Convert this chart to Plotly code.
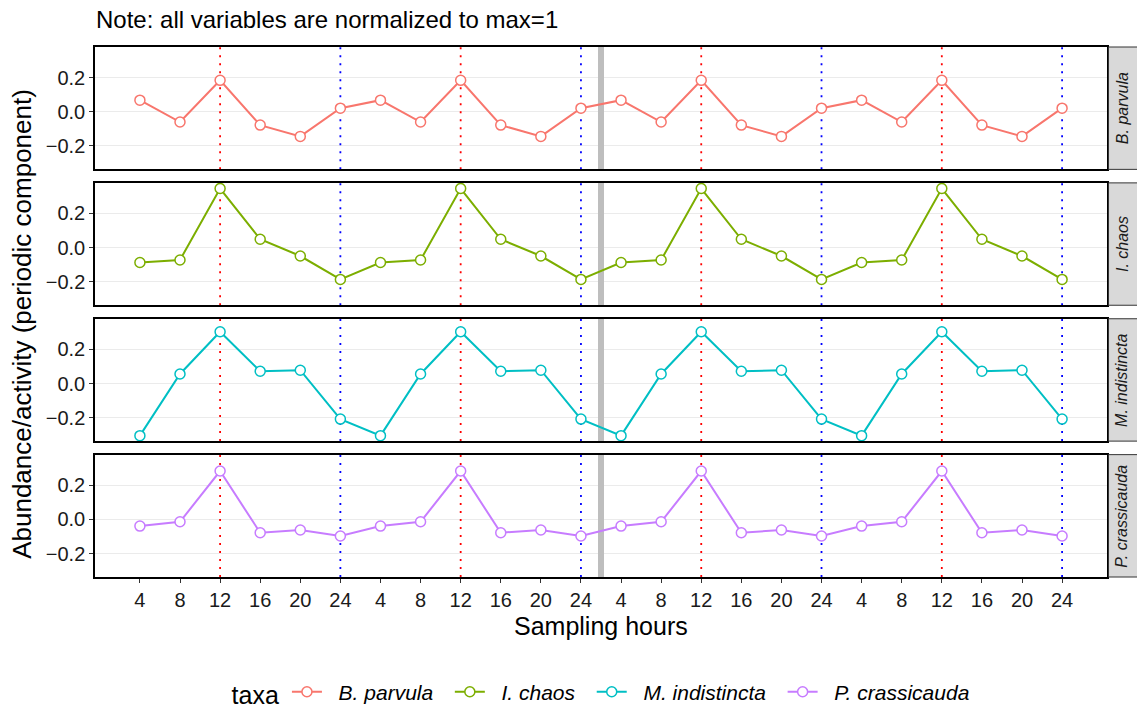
import plotly.graph_objects as go
from plotly.subplots import make_subplots

# ---- data ----
hour_labels = [4, 8, 12, 16, 20, 24, 4, 8, 12, 16, 20, 24,
               4, 8, 12, 16, 20, 24, 4, 8, 12, 16, 20, 24]
sample_index = list(range(1, 25))

taxa = ["B. parvula", "I. chaos", "M. indistincta", "P. crassicauda"]

b_parvula = [0.068, -0.060, 0.184, -0.078, -0.144, 0.021,
             0.068, -0.060, 0.184, -0.078, -0.144, 0.021,
             0.068, -0.060, 0.184, -0.078, -0.144, 0.021,
             0.068, -0.060, 0.184, -0.078, -0.144, 0.021]
i_chaos = [-0.087, -0.072, 0.346, 0.049, -0.049, -0.186,
           -0.087, -0.072, 0.346, 0.049, -0.049, -0.186,
           -0.087, -0.072, 0.346, 0.049, -0.049, -0.186,
           -0.087, -0.072, 0.346, 0.049, -0.049, -0.186]
m_indistincta = [-0.305, 0.056, 0.303, 0.072, 0.078, -0.208,
                 -0.305, 0.056, 0.303, 0.072, 0.078, -0.208,
                 -0.305, 0.056, 0.303, 0.072, 0.078, -0.208,
                 -0.305, 0.056, 0.303, 0.072, 0.078, -0.208]
p_crassicauda = [-0.039, -0.014, 0.283, -0.078, -0.062, -0.097,
                 -0.039, -0.014, 0.283, -0.078, -0.062, -0.097,
                 -0.039, -0.014, 0.283, -0.078, -0.062, -0.097,
                 -0.039, -0.014, 0.283, -0.078, -0.062, -0.097]
series = [b_parvula, i_chaos, m_indistincta, p_crassicauda]
colors = ["#F8766D", "#7CAE00", "#00BFC4", "#C77CFF"]

noon_hour = 12
midnight_hour = 24
break_position = 12.5  # grey separator between sampling periods

Y_RANGE = [-0.337, 0.379]
FONT = "Liberation Sans, Arial, Helvetica, sans-serif"
NB = "\u00a0"

fig = make_subplots(rows=4, cols=1, shared_xaxes=True, vertical_spacing=0.0255)


def vline(x, color, width, dash, row):
    fig.add_trace(go.Scatter(
        x=[x, x], y=Y_RANGE, mode="lines",
        line=dict(color=color, width=width, dash=dash),
        showlegend=False, hoverinfo="skip"), row=row, col=1)


for i, (name, vals, col) in enumerate(zip(taxa, series, colors), start=1):
    vline(break_position, "#BEBEBE", 6, "solid", i)
    for xi, h in zip(sample_index, hour_labels):
        if h == noon_hour:
            vline(xi, "#FF0000", 1.8, "2px,6px", i)
        elif h == midnight_hour:
            vline(xi, "#0000FF", 1.8, "2px,6px", i)

    fig.add_trace(go.Scatter(
        x=sample_index, y=vals, name=f"{NB*2}<i>{name}</i>{NB*2}",
        mode="lines+markers",
        line=dict(color=col, width=2),
        marker=dict(symbol="circle", size=10, color="white",
                    line=dict(color=col, width=1.5)),
        showlegend=True,
    ), row=i, col=1)

    yref = "y" if i == 1 else f"y{i}"
    # strip
    fig.add_shape(type="rect", xref="paper", yref=f"{yref} domain",
                  x0=1.0015, x1=1.032, y0=0, y1=1,
                  fillcolor="#D9D9D9", line=dict(color="#333333", width=1))
    fig.add_annotation(xref="paper", yref=f"{yref} domain",
                       x=1.0148, y=0.5, text=f"<i>{name}</i>", showarrow=False,
                       textangle=-90, font=dict(family=FONT, size=16, color="#1A1A1A"),
                       xanchor="center", yanchor="middle")

    fig.update_yaxes(range=Y_RANGE, tickvals=[-0.2, 0.0, 0.2],
                     tickformat=".1f", showgrid=True, gridcolor="#EBEBEB",
                     gridwidth=1.2, zeroline=False, showline=True, mirror=True,
                     linecolor="black", linewidth=1.5, ticks="outside",
                     ticklen=4, tickcolor="#333333",
                     tickfont=dict(family=FONT, size=20, color="#1A1A1A"),
                     row=i, col=1)
    fig.update_xaxes(range=[-0.12, 25.12], tickvals=sample_index,
                     ticktext=[str(h) for h in hour_labels],
                     showgrid=False, zeroline=False, showline=True, mirror=True,
                     linecolor="black", linewidth=1.5,
                     ticks="outside" if i == 4 else "", ticklen=4,
                     tickcolor="#333333", showticklabels=(i == 4),
                     tickfont=dict(family=FONT, size=20, color="#1A1A1A"),
                     row=i, col=1)

fig.add_annotation(xref="paper", yref="paper", x=0.5, y=-0.0925,
                   text="Sampling hours", showarrow=False,
                   font=dict(family=FONT, size=25, color="black"),
                   xanchor="center", yanchor="middle")
fig.add_annotation(xref="paper", yref="paper", x=-0.0715, y=0.477,
                   text="Abundance/activity (periodic component)", showarrow=False,
                   textangle=-90, font=dict(family=FONT, size=26, color="black"),
                   xanchor="center", yanchor="middle")
fig.add_annotation(xref="paper", yref="paper", x=0.0, y=1.051,
                   text="Note: all variables are normalized to max=1", showarrow=False,
                   font=dict(family=FONT, size=24, color="black"),
                   xanchor="left", yanchor="middle", borderpad=0)

fig.update_layout(
    width=1137, height=709,
    margin=dict(l=95, r=30, t=47, b=132, autoexpand=False),
    paper_bgcolor="white", plot_bgcolor="white",
    font=dict(family=FONT, color="black"),
    legend=dict(orientation="h", x=0.507, xanchor="center", y=-0.219,
                yanchor="middle", title=dict(text="taxa", font=dict(size=25)),
                font=dict(family=FONT, size=21, color="black")),
)

# remove the browser's default 8px page margin so the figure fills the window
fig.write_html("out.html",
               config={"displayModeBar": False},
               post_script="document.body.style.margin='0';")
